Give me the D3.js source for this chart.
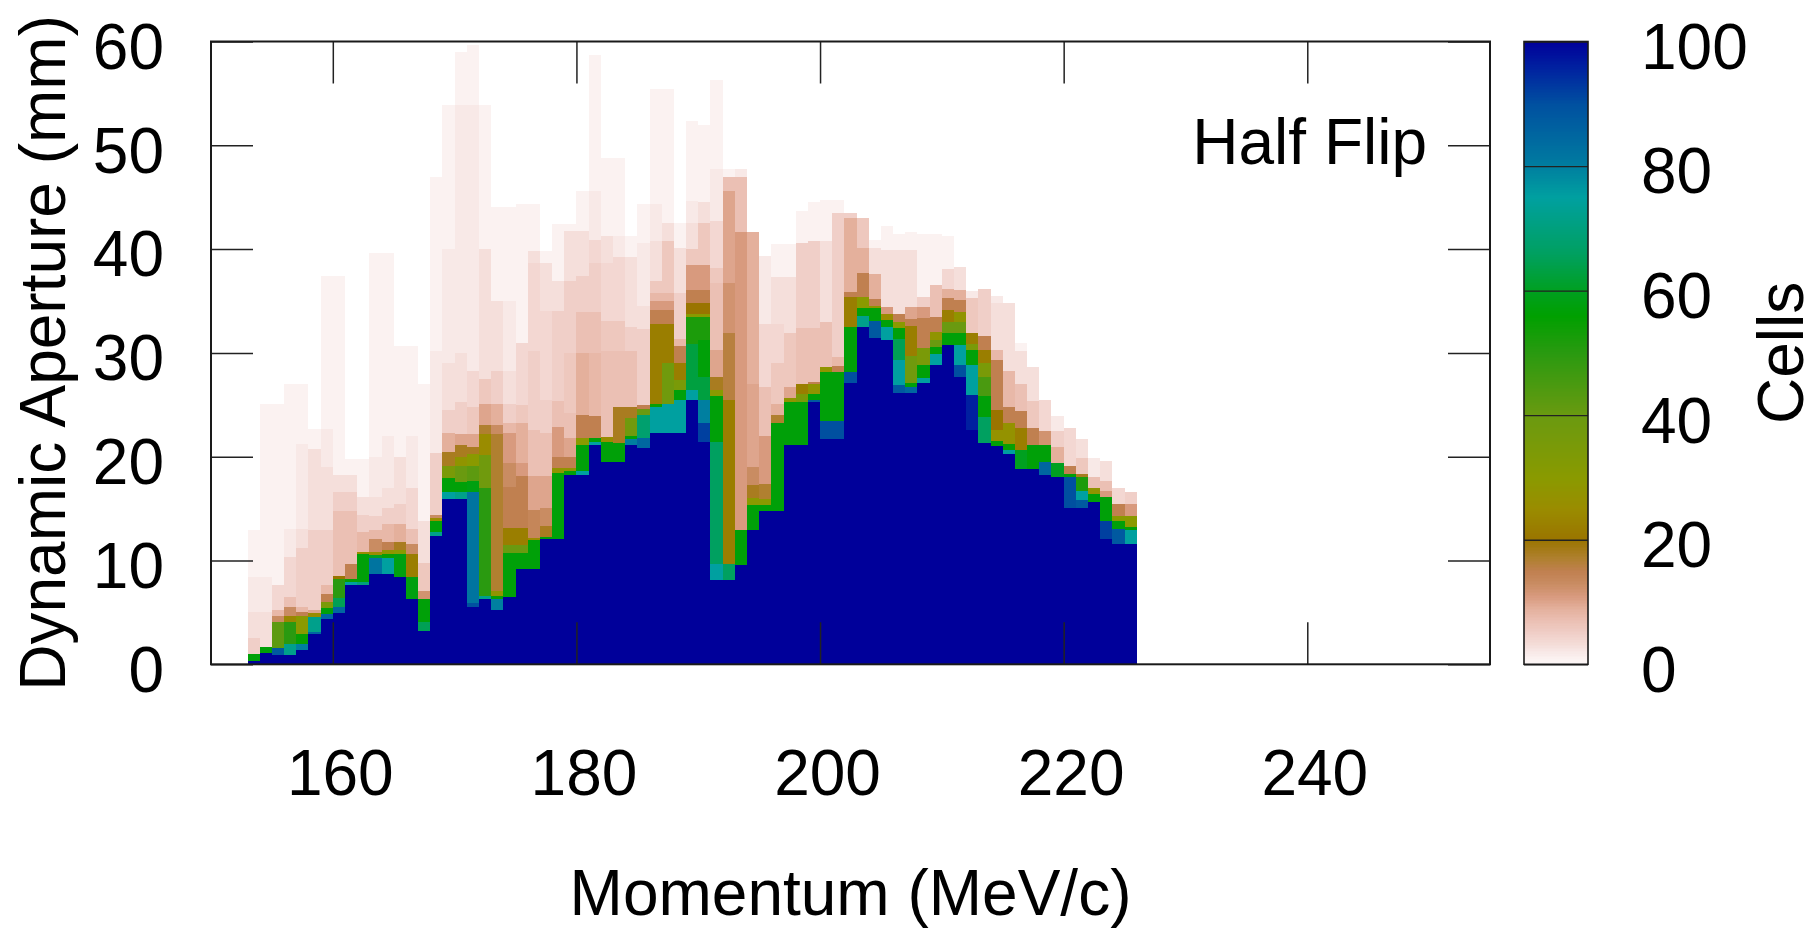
<!DOCTYPE html>
<html>
<head>
<meta charset="utf-8">
<script src="https://cdn.jsdelivr.net/npm/d3@7"></script>
<style>
  html, body { margin: 0; padding: 0; background: #ffffff; }
  svg { display: block; }
  text { font-family: "Liberation Sans", Arial, Helvetica, sans-serif; fill: #000; }
</style>
</head>
<body>
<svg id="chart" width="1818" height="928"></svg>
<script>
// Momentum bins (lower edge, MeV/c); each bin is 1 MeV/c wide
const momentumBins = [
  153,154,155,156,157,158,159,160,161,162,163,164,165,166,167,168,169,170,171,172,
  173,174,175,176,177,178,179,180,181,182,183,184,185,186,187,188,189,190,191,192,
  193,194,195,196,197,198,199,200,201,202,203,204,205,206,207,208,209,210,211,212,
  213,214,215,216,217,218,219,220,221,222,223,224,225
];

// For each momentum bin: stacked bands [upper aperture edge (mm), number of cells]
const apertureBands = [
  [[0.3,100],[1.0,57],[2.5,5],[5.0,3],[8.4,2],[12.9,1]],
  [[1.1,100],[1.7,57],[5.0,3],[8.4,2],[25.1,1]],
  [[0.9,100],[1.6,88],[4.1,42],[4.7,13],[5.2,8],[7.6,4],[25.1,1]],
  [[0.9,100],[2.0,72],[4.1,50],[4.7,24],[5.5,13],[6.5,7],[10.3,4],[13.0,2],[27.0,1]],
  [[1.4,100],[2.0,80],[2.9,55],[4.7,30],[5.0,15],[5.5,8],[11.2,5],[13.0,3],[21.2,2],[27.0,1]],
  [[2.9,100],[3.1,85],[4.6,72],[4.9,25],[5.2,10],[12.9,5],[20.7,3],[22.7,1]],
  [[4.4,100],[4.8,85],[5.4,57],[6.0,35],[6.8,15],[7.6,8],[12.9,5],[19.0,3],[22.7,2],[37.4,1]],
  [[4.9,100],[5.5,85],[6.4,65],[8.2,50],[8.5,20],[14.8,7],[16.6,5],[18.2,3],[37.4,1]],
  [[7.6,100],[7.9,75],[8.2,55],[9.7,15],[14.8,7],[16.6,5],[18.2,3],[19.8,1]],
  [[7.6,100],[7.9,70],[10.6,57],[10.8,25],[12.7,8],[14.4,5],[16.1,3],[19.8,1]],
  [[8.7,100],[10.2,82],[10.5,60],[10.8,25],[12.1,13],[12.9,8],[14.3,5],[16.1,3],[20.0,2],[39.6,1]],
  [[8.7,100],[10.2,75],[10.6,55],[11.0,28],[11.8,15],[13.5,8],[15.1,5],[17.0,3],[22.0,2],[39.6,1]],
  [[8.4,100],[10.6,58],[11.0,30],[11.8,18],[13.5,9],[15.4,5],[20.0,3],[30.7,1]],
  [[6.3,100],[8.4,58],[10.6,22],[11.6,13],[13.0,7],[17.0,4],[22.0,2],[30.7,1]],
  [[3.2,100],[4.1,65],[6.3,57],[7.1,12],[9.8,6],[13.8,3],[27.0,1]],
  [[12.4,100],[12.7,72],[13.8,57],[14.1,25],[14.4,13],[20.4,5],[30.2,2],[46.9,1]],
  [[15.9,100],[16.6,75],[17.9,57],[19.1,35],[20.5,18],[22.3,9],[24.5,5],[29.0,3],[40.0,2],[53.9,1]],
  [[15.9,100],[16.6,72],[17.6,57],[19.1,40],[20.0,28],[21.1,18],[22.2,10],[25.3,5],[30.0,3],[53.9,2],[59.0,1]],
  [[5.5,100],[5.9,90],[16.6,82],[17.7,58],[19.1,42],[20.3,30],[20.9,18],[22.2,10],[24.8,6],[28.3,4],[53.9,2],[59.7,1]],
  [[6.3,100],[6.6,72],[17.0,50],[20.2,38],[22.2,25],[23.1,17],[25.1,10],[27.5,6],[40.0,3],[53.9,1]],
  [[5.2,100],[6.3,80],[6.6,55],[7.1,28],[22.2,17],[23.1,13],[25.1,9],[28.3,5],[35.0,3],[44.1,1]],
  [[6.5,100],[10.7,57],[11.5,40],[13.1,22],[17.1,15],[19.4,13],[22.3,11],[23.2,8],[25.1,5],[28.3,3],[35.0,2],[44.1,1]],
  [[9.2,100],[10.7,57],[11.5,40],[13.1,22],[18.1,15],[19.4,11],[23.2,9],[25.0,6],[31.0,4],[44.3,1]],
  [[9.2,100],[12.0,57],[12.2,25],[14.9,14],[18.1,10],[22.6,7],[30.2,5],[38.7,4],[39.8,3],[44.3,1]],
  [[12.1,100],[12.3,57],[13.3,18],[15.1,13],[18.1,10],[22.3,7],[25.5,5],[34.0,4],[38.7,3],[39.8,1]],
  [[12.1,100],[18.4,57],[18.9,28],[20.0,15],[22.9,11],[25.4,7],[34.0,5],[36.9,3],[42.4,1]],
  [[18.2,100],[18.6,57],[18.9,28],[20.0,15],[21.8,10],[24.2,7],[30.0,6],[36.9,5],[41.7,3],[42.4,1]],
  [[18.2,100],[18.6,75],[21.1,57],[21.8,30],[24.0,15],[30.0,9],[33.9,7],[37.4,5],[41.7,3],[45.6,1]],
  [[21.1,100],[21.4,75],[21.8,57],[23.9,15],[30.0,8],[33.9,7],[38.7,5],[40.9,4],[45.6,2],[58.7,1]],
  [[19.5,100],[21.4,57],[21.9,25],[30.2,7],[33.1,6],[38.7,4],[41.3,3],[48.8,1]],
  [[19.5,100],[21.3,57],[24.8,18],[30.2,7],[33.1,6],[39.2,4],[41.3,2],[48.8,1]],
  [[21.1,100],[21.7,80],[22.0,57],[23.7,38],[24.8,18],[30.2,7],[32.5,5],[39.2,3],[41.3,1]],
  [[20.8,100],[21.8,85],[24.0,68],[24.6,40],[25.0,15],[32.3,5],[34.5,3],[40.6,2],[44.3,1]],
  [[22.3,100],[24.8,75],[25.1,55],[32.8,22],[34.1,15],[35.0,11],[35.8,8],[36.9,6],[40.8,3],[44.3,2],[55.4,1]],
  [[22.3,100],[25.1,75],[29.0,38],[32.8,22],[34.1,15],[35.0,11],[35.8,8],[40.8,6],[42.5,3],[55.4,1]],
  [[22.3,100],[25.5,75],[26.4,57],[27.4,35],[29.0,22],[30.7,15],[31.3,8],[35.8,5],[40.1,3],[42.5,1]],
  [[25.5,100],[26.4,75],[30.9,63],[33.5,52],[33.7,30],[34.8,20],[36.1,15],[38.5,11],[40.0,6],[42.5,3],[44.6,2],[52.3,1]],
  [[21.4,100],[23.2,92],[25.5,80],[27.7,63],[31.2,57],[33.5,52],[33.7,30],[34.8,20],[36.1,15],[38.5,11],[42.5,6],[44.5,3],[52.0,1]],
  [[8.1,100],[9.7,75],[21.4,66],[25.8,57],[26.4,30],[27.7,18],[30.3,10],[36.7,7],[38.2,6],[42.7,4],[47.7,2],[56.3,1]],
  [[8.1,100],[9.7,66],[25.5,22],[31.9,16],[36.7,12],[45.6,10],[46.9,7],[47.7,1]],
  [[9.6,100],[12.9,57],[41.6,11],[46.9,7],[47.7,2]],
  [[12.9,100],[15.3,57],[16.0,30],[17.3,18],[19.0,13],[27.0,10],[41.6,9]],
  [[14.8,100],[15.3,57],[15.9,30],[17.4,17],[22.0,11],[26.7,7],[32.8,4],[39.3,2]],
  [[14.8,100],[23.2,57],[24.0,17],[25.1,9],[29.0,6],[32.8,4],[37.3,3],[40.5,1]],
  [[21.1,100],[25.3,57],[25.7,28],[26.7,10],[31.9,6],[37.3,3],[40.5,1]],
  [[21.1,100],[25.3,57],[26.0,35],[27.0,22],[32.4,7],[40.6,5],[43.7,1]],
  [[25.3,100],[25.5,88],[26.0,57],[27.0,28],[27.2,15],[32.4,7],[40.8,5],[44.5,1]],
  [[21.7,100],[23.4,90],[28.2,57],[28.6,28],[33.0,7],[40.8,3],[44.7,1]],
  [[21.7,100],[23.4,90],[28.2,57],[28.7,15],[29.6,8],[43.5,5],[44.7,1]],
  [[27.1,100],[28.2,90],[32.5,57],[35.4,22],[35.9,15],[43.0,9],[43.5,5]],
  [[32.5,100],[33.6,72],[34.3,57],[35.4,30],[37.7,15],[40.1,9],[43.0,6]],
  [[31.4,100],[33.1,88],[34.3,57],[34.5,28],[35.2,15],[37.6,9],[40.1,3],[40.9,1]],
  [[31.2,100],[32.5,75],[33.2,57],[33.7,25],[34.4,11],[39.9,3],[42.2,1]],
  [[26.1,100],[26.9,88],[29.3,75],[31.3,65],[32.4,57],[33.0,30],[33.7,15],[39.9,3],[41.5,1]],
  [[26.1,100],[26.7,85],[27.1,57],[29.7,38],[32.6,22],[33.3,15],[34.4,10],[39.9,3],[41.6,1]],
  [[27.1,100],[27.6,75],[28.8,57],[30.5,35],[33.4,15],[34.4,11],[35.4,5],[41.5,1]],
  [[28.8,100],[29.9,75],[30.6,57],[31.2,40],[32.0,28],[33.5,15],[36.5,7],[41.5,1]],
  [[30.8,100],[31.9,57],[33.0,40],[34.1,22],[35.3,15],[36.2,9],[38.1,4],[41.3,1]],
  [[27.7,100],[28.8,90],[30.8,75],[31.9,57],[33.0,40],[33.9,28],[35.1,15],[36.1,9],[38.3,3]],
  [[22.6,100],[25.9,96],[28.8,75],[30.3,57],[30.9,35],[31.9,22],[35.3,6],[36.0,2]],
  [[21.3,100],[23.8,66],[25.8,57],[27.7,45],[29.0,35],[30.3,22],[31.6,15],[36.2,5]],
  [[21.0,100],[21.5,57],[22.6,27],[24.5,20],[29.3,15],[30.3,8],[34.8,3],[35.5,2]],
  [[20.3,100],[20.6,75],[21.2,55],[23.2,27],[24.8,15],[28.3,8],[34.8,3]],
  [[18.8,100],[20.6,60],[22.8,22],[24.4,15],[27.0,7],[30.2,3],[31.0,1]],
  [[18.8,100],[21.1,57],[22.8,15],[25.4,6],[28.6,3]],
  [[18.2,100],[19.5,85],[21.1,57],[22.5,12],[25.5,4]],
  [[18.0,100],[19.4,60],[20.9,9],[22.5,5],[23.9,2]],
  [[15.1,100],[18.0,90],[18.3,57],[19.1,15],[22.8,4]],
  [[15.1,100],[15.8,88],[16.7,75],[18.0,52],[18.3,18],[19.9,6],[21.7,3]],
  [[15.6,100],[16.4,57],[17.0,28],[18.0,7],[19.9,2]],
  [[12.1,100],[13.8,92],[16.1,57],[16.7,11],[17.7,7],[19.6,3]],
  [[11.6,100],[13.0,88],[13.8,57],[14.3,30],[15.4,15],[17.0,4]],
  [[11.6,100],[12.9,75],[13.2,57],[14.3,30],[15.4,11],[16.6,5]]
];

// Axis ticks
const momentumTicks = [160, 180, 200, 220, 240];
const apertureTicks = [0, 10, 20, 30, 40, 50, 60];
const cellTicks = [0, 20, 40, 60, 80, 100];

// Palette: cell count -> colour
const paletteCounts = [0, 1, 2, 3, 5, 7, 9, 11, 13, 15, 17, 20, 25, 30, 40, 50, 56, 60, 66, 75, 81, 90, 96, 100];
const paletteColors = ["#fdf7f7","#fbf2f1","#f8e9e7","#f5dfdb","#f0cfc8","#ebc0b4","#e4b09c","#d89a7e",
                       "#c98c62","#c08050","#b08030","#9a7400","#9a8c00","#8a9a00","#6a9a10","#2a9a10",
                       "#00a000","#00a020","#00a060","#00a0a0","#0078a0","#0050a0","#0020a0","#00009a"];

const FONT = '"Liberation Sans", Arial, Helvetica, sans-serif';
const svg = d3.select("#chart");

const plot = { left: 211, right: 1490, top: 41.5, bottom: 664.3 };
const bar = { left: 1524, right: 1588 };

const x = d3.scaleLinear().domain([150, 255]).range([plot.left, plot.right]);
const y = d3.scaleLinear().domain([0, 60]).range([plot.bottom, plot.top]);
const color = d3.scaleLinear().domain(paletteCounts).range(paletteColors)
  .interpolate(d3.interpolateRgb).clamp(true);

// Heat-map cells
const cells = [];
momentumBins.forEach((p, i) => {
  let lo = 0;
  apertureBands[i].forEach(([hi, count]) => {
    cells.push({ p, lo, hi, count });
    lo = hi;
  });
});

svg.append("g").attr("class", "cells")
  .selectAll("rect").data(cells).join("rect")
  .attr("x", d => x(d.p))
  .attr("width", d => x(d.p + 1) - x(d.p))
  .attr("y", d => y(d.hi))
  .attr("height", d => y(d.lo) - y(d.hi))
  .attr("fill", d => color(d.count))
  .attr("shape-rendering", "crispEdges");

// Axes with inward ticks on all four sides
function styleAxis(g) {
  g.select(".domain").remove();
  g.selectAll(".tick line").attr("stroke", "#222").attr("stroke-width", 1.5);
  g.selectAll(".tick text").attr("font-size", 64).attr("font-family", FONT).attr("fill", "#000");
}

svg.append("g")
  .attr("transform", `translate(0,${plot.bottom})`)
  .call(d3.axisBottom(x).tickValues(momentumTicks).tickSizeInner(-42).tickSizeOuter(0).tickPadding(85))
  .call(styleAxis)
  .call(g => g.selectAll(".tick text").attr("dx", 7));

svg.append("g")
  .attr("transform", `translate(0,${plot.top})`)
  .call(d3.axisTop(x).tickValues(momentumTicks).tickSizeInner(-42).tickSizeOuter(0).tickFormat(""))
  .call(styleAxis);

svg.append("g")
  .attr("transform", `translate(${plot.left},0)`)
  .call(d3.axisLeft(y).tickValues(apertureTicks).tickSizeInner(-42).tickSizeOuter(0).tickPadding(47))
  .call(styleAxis)
  .call(g => g.selectAll(".tick text").attr("dy", "0.42em"));

svg.append("g")
  .attr("transform", `translate(${plot.right},0)`)
  .call(d3.axisRight(y).tickValues(apertureTicks).tickSizeInner(-42).tickSizeOuter(0).tickFormat(""))
  .call(styleAxis);

// Plot frame
svg.append("rect")
  .attr("x", plot.left).attr("y", plot.top)
  .attr("width", plot.right - plot.left).attr("height", plot.bottom - plot.top)
  .attr("fill", "none").attr("stroke", "#1a1a1a").attr("stroke-width", 2);

// Colour bar
const cy = d3.scaleLinear().domain([0, 100]).range([plot.bottom, plot.top]);
const barSteps = d3.range(0, 100, 0.25);
svg.append("g").selectAll("rect").data(barSteps).join("rect")
  .attr("x", bar.left).attr("width", bar.right - bar.left)
  .attr("y", d => cy(d + 0.25)).attr("height", d => cy(d) - cy(d + 0.25) + 0.6)
  .attr("fill", d => color(d + 0.125))
  .attr("shape-rendering", "crispEdges");

svg.append("g")
  .attr("transform", `translate(${bar.right},0)`)
  .call(d3.axisRight(cy).tickValues(cellTicks).tickSizeInner(-(bar.right - bar.left)).tickSizeOuter(0).tickPadding(53))
  .call(styleAxis)
  .call(g => g.selectAll(".tick line").attr("stroke-width", 1.3))
  .call(g => g.selectAll(".tick text").attr("dy", "0.42em"));

svg.append("rect")
  .attr("x", bar.left).attr("y", plot.top)
  .attr("width", bar.right - bar.left).attr("height", plot.bottom - plot.top)
  .attr("fill", "none").attr("stroke", "#1a1a1a").attr("stroke-width", 1.6);

// Titles
svg.append("text")
  .attr("x", (plot.left + plot.right) / 2).attr("y", 915)
  .attr("text-anchor", "middle").attr("font-size", 64).attr("font-family", FONT)
  .text("Momentum (MeV/c)");

svg.append("text")
  .attr("transform", `translate(65,${(plot.top + plot.bottom) / 2}) rotate(-90)`)
  .attr("text-anchor", "middle").attr("font-size", 64).attr("font-family", FONT)
  .text("Dynamic Aperture (mm)");

svg.append("text")
  .attr("transform", `translate(1803,${(plot.top + plot.bottom) / 2}) rotate(-90)`)
  .attr("text-anchor", "middle").attr("font-size", 64).attr("font-family", FONT)
  .text("Cells");

svg.append("text")
  .attr("x", 1427).attr("y", 164)
  .attr("text-anchor", "end").attr("font-size", 64).attr("font-family", FONT)
  .text("Half Flip");
</script>
</body>
</html>
